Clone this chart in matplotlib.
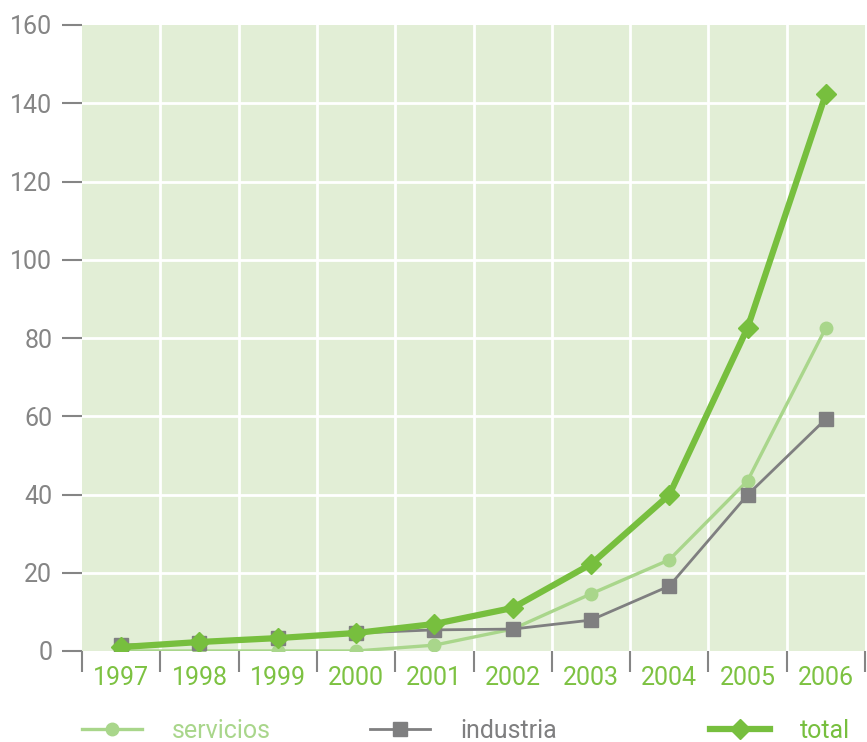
import matplotlib
matplotlib.use("Agg")
import matplotlib.pyplot as plt
from matplotlib.lines import Line2D

years = ["1997", "1998", "1999", "2000", "2001", "2002", "2003", "2004", "2005", "2006"]
servicios = [0.0, 0.0, 0.0, 0.0, 1.5, 5.6, 14.6, 23.3, 43.5, 82.6]
industria = [1.5, 2.0, 3.3, 4.6, 5.4, 5.6, 7.9, 16.6, 39.9, 59.3]
total = [1.0, 2.3, 3.3, 4.6, 6.9, 11.0, 22.2, 39.9, 82.6, 142.4]
yticks = [0, 20, 40, 60, 80, 100, 120, 140, 160]

C_SERV = "#a9d68b"
C_IND = "#7f7f80"
C_TOT = "#77bf3e"
C_BG = "#e2eed6"
C_XLAB = "#7dc242"
C_YLAB = "#858585"

plt.rcParams["font.family"] = ["Roboto", "DejaVu Sans"]

W, H = 867, 742
fig = plt.figure(figsize=(W / 100, H / 100), dpi=100)
ax = fig.add_axes([82 / W, (H - 651) / H, (865 - 82) / W, (651 - 25) / H])
ax.set_facecolor(C_BG)

x = list(range(len(years)))
ax.set_xlim(-0.5, len(years) - 0.5)
ax.set_ylim(0, 160)

# grid
for b in [i + 0.5 for i in range(len(years) - 1)]:
    ax.axvline(b, color="white", lw=2, zorder=1)
for v in yticks[1:-1]:
    ax.axhline(v, color="white", lw=2, zorder=1)

ax.plot(x, servicios, color=C_SERV, lw=2.4, marker="o", ms=9, zorder=3, label="servicios")
ax.plot(x, industria, color=C_IND, lw=2.0, marker="s", ms=9.5, zorder=4, label="industria")
ax.plot(x, total, color=C_TOT, lw=4.5, marker="D", ms=10.5, zorder=5, label="total")

for s in ax.spines.values():
    s.set_visible(False)

ax.set_yticks(yticks)
ax.set_yticklabels([str(v) for v in yticks], fontsize=18, color=C_YLAB)
ax.tick_params(axis="y", length=14.5, width=1.5, color=C_YLAB, pad=7)

ax.set_xticks([i - 0.5 for i in range(len(years) + 1)])
ax.set_xticklabels([""] * (len(years) + 1))
ax.tick_params(axis="x", which="major", length=15, width=1.5, color=C_YLAB)
ax.set_xticks(x, minor=True)
ax.set_xticklabels(years, minor=True, fontsize=18, color=C_XLAB)
ax.tick_params(axis="x", which="minor", length=0, pad=11)

handles = [
    (Line2D([], [], color=C_SERV, lw=2.4, marker="o", ms=9), "servicios", C_SERV, 82),
    (Line2D([], [], color=C_IND, lw=2.0, marker="s", ms=9.5), "industria", C_IND, 370),
    (Line2D([], [], color=C_TOT, lw=4.5, marker="D", ms=10.5), "total", C_TOT, 710),
]
for h, lab, col, xpx in handles:
    leg = fig.legend([h], [lab], loc="center left",
                     bbox_to_anchor=(xpx / W, (H - 731) / H),
                     frameon=False, handlelength=2.4,
                     handletextpad=1.2, borderpad=0, borderaxespad=0,
                     prop={"size": 18})
    for t in leg.get_texts():
        t.set_color(col)

fig.savefig("out.png", dpi=100)
